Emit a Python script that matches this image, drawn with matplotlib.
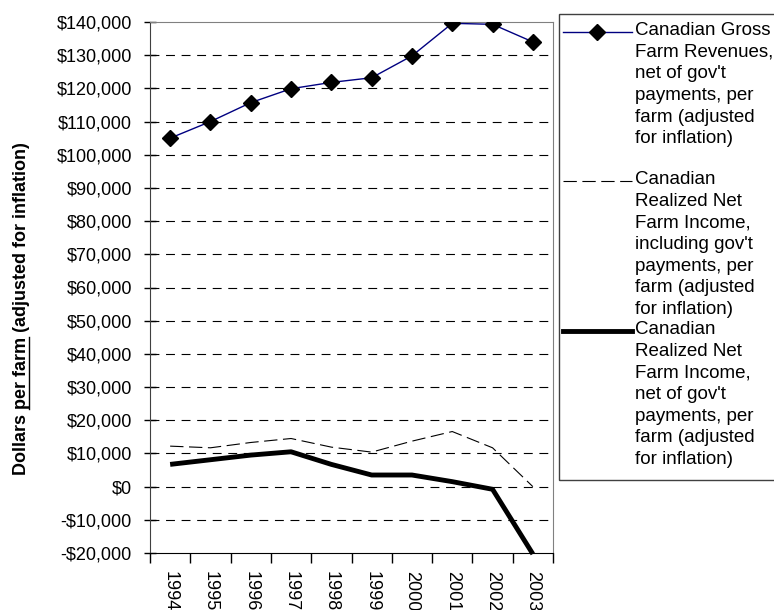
import matplotlib
matplotlib.use("Agg")
import matplotlib.pyplot as plt
from matplotlib.lines import Line2D
from matplotlib.patches import Rectangle

plt.rcParams['font.family'] = ['Liberation Sans', 'DejaVu Sans']

# data
years = ["1994", "1995", "1996", "1997", "1998", "1999", "2000", "2001", "2002", "2003"]
gross = [105000, 110000, 115700, 119900, 121800, 123200, 129800, 139600, 139300, 134000]
net_incl = [12200, 11700, 13300, 14500, 11900, 10400, 13700, 16600, 11700, 0]
net_excl = [6700, 8100, 9500, 10500, 6700, 3500, 3500, 1500, -800, -20300]

yticks = list(range(-20000, 140001, 10000))
ylabels = [("-$" if v < 0 else "$") + f"{abs(v):,}" for v in yticks]

legend_texts = [
    "Canadian Gross\nFarm Revenues,\nnet of gov't\npayments, per\nfarm (adjusted\nfor inflation)",
    "Canadian\nRealized Net\nFarm Income,\nincluding gov't\npayments, per\nfarm (adjusted\nfor inflation)",
    "Canadian\nRealized Net\nFarm Income,\nnet of gov't\npayments, per\nfarm (adjusted\nfor inflation)",
]

W, H = 774, 610
fig = plt.figure(figsize=(W / 100, H / 100), dpi=100)
ax = fig.add_axes([150 / W, 57 / H, 403 / W, 531 / H])

x = list(range(len(years)))
ax.plot(x, gross, color='#000080', lw=1, marker='D', ms=8, mfc='black', mec='black', zorder=4)
ax.plot(x, net_incl, color='black', lw=0.8, dashes=(12, 5), zorder=3)
ax.plot(x, net_excl, color='black', lw=3.5, clip_on=False, zorder=3, solid_capstyle='butt')

ax.set_xlim(-0.5, 9.5)
ax.set_ylim(-20000, 140000)
ax.set_yticks(yticks)
ax.set_yticklabels(ylabels)
for v in yticks[1:-1]:
    ax.axhline(v, color='black', lw=0.8, dashes=(8, 6), zorder=1)

ax.set_xticks(x)
ax.set_xticklabels(years, rotation=-90)
ax.set_xticks([i - 0.5 for i in range(len(years) + 1)], minor=True)
ax.tick_params(axis='x', which='major', length=0, pad=13, labelsize=13)
ax.tick_params(axis='x', which='minor', length=7, direction='out', width=1)
ax.tick_params(axis='y', direction='inout', length=8, width=1, pad=9, labelsize=13)

for s in ['top', 'right']:
    ax.spines[s].set_color('#808080')
ax.spines['left'].set_color('#404040')
ax.spines['bottom'].set_color('black')

# y label with "per farm" underlined
label = "Dollars per farm (adjusted for inflation)"
lab_kw = dict(fontsize=13, fontweight='bold')
yl = fig.text(22 / W, 1 - 309 / H, label, rotation=90, ha='center', va='center', **lab_kw)
fig.canvas.draw()
r = fig.canvas.get_renderer()

def width_of(s):
    t = fig.text(0, 0, s, **lab_kw)
    w = t.get_window_extent(r).width
    t.remove()
    return w

full = width_of(label)
start = full - width_of("per farm (adjusted for inflation)")
end = width_of("Dollars per farm")
bb = yl.get_window_extent(r)
y0 = (bb.y0 + bb.y1) / 2 - full / 2
ux = bb.x1 - 1.5
fig.add_artist(Line2D([ux / W, ux / W], [(y0 + start) / H, (y0 + end) / H],
                      transform=fig.transFigure, color='black', lw=1))

# legend box drawn by hand, cut off at the right edge like the original
fig.add_artist(Rectangle((559 / W, 1 - 480 / H), 260 / W, 466 / H, transform=fig.transFigure,
                         fill=False, edgecolor='#404040', lw=1, clip_on=False))
handle_y = [32, 181, 331]
handle_styles = [
    dict(color='#000080', lw=1),
    dict(color='black', lw=0.8, dashes=(12, 5)),
    dict(color='black', lw=3.5),
]
for hy, txt, st in zip(handle_y, legend_texts, handle_styles):
    yf = 1 - hy / H
    fig.add_artist(Line2D([563 / W, 632 / W], [yf, yf], transform=fig.transFigure, **st))
    if st['color'] == '#000080':
        fig.add_artist(Line2D([597 / W], [yf], transform=fig.transFigure, marker='D', ms=8,
                              mfc='black', mec='black', lw=0))
    fig.text(635 / W, 1 - (hy - 10) / H, txt, ha='left', va='top', fontsize=13.5,
             linespacing=1.36)

fig.savefig("out.png", dpi=100)
